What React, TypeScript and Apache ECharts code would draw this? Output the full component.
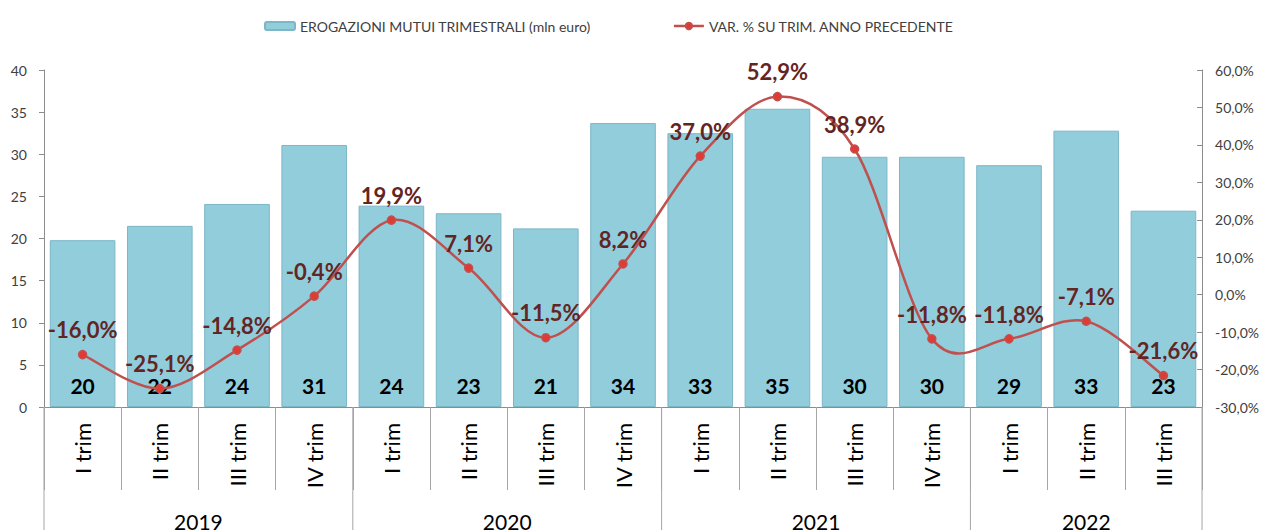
import React, { useEffect, useRef } from "react";
import * as echarts from "echarts";

const quarters = [
  "I trim", "II trim", "III trim", "IV trim",
  "I trim", "II trim", "III trim", "IV trim",
  "I trim", "II trim", "III trim", "IV trim",
  "I trim", "II trim", "III trim",
];
const years = ["2019", "2020", "2021", "2022"];
const quartersPerYear = [4, 4, 4, 3];
const erogazioni = [19.8, 21.5, 24.1, 31.1, 23.9, 23.0, 21.2, 33.7, 32.5, 35.4, 29.7, 29.7, 28.7, 32.8, 23.3];
const variazione = [-16.0, -25.1, -14.8, -0.4, 19.9, 7.1, -11.5, 8.2, 37.0, 52.9, 38.9, -11.8, -11.8, -7.1, -21.6];
const leftTicks = { min: 0, max: 40, interval: 5 };
const rightTicks = { min: -30, max: 60, interval: 10 };

const FONT = "Lato";
const LINE_COLOR = "#C0504D";
const SEP_COLOR = "#a6a6a6";
const pct = (v: number) => v.toFixed(1).replace(".", ",") + "%";

export default function App() {
  const ref = useRef<HTMLDivElement>(null);
  useEffect(() => {
    if (!ref.current) return;
    const chart = echarts.init(ref.current, null, { renderer: "svg" });

    // year groups: [firstQuarterIndex, quarterCount, yearIndex]
    const yearData: number[][] = [];
    let acc = 0;
    quartersPerYear.forEach((q, k) => {
      yearData.push([acc, q, k]);
      acc += q;
    });

    // Segment data for a Catmull-Rom (Excel-style) smoothed line: [i, prev, cur, next, next2]
    const n = variazione.length;
    const segData = variazione.slice(0, n - 1).map((v, i) => [
      i,
      variazione[Math.max(i - 1, 0)],
      v,
      variazione[i + 1],
      variazione[Math.min(i + 2, n - 1)],
    ]);

    chart.setOption({
      animation: false,
      backgroundColor: "#ffffff",
      textStyle: { fontFamily: FONT },
      legend: {
        left: 259,
        top: 14,
        itemWidth: 30,
        itemHeight: 8,
        itemGap: 82,
        textStyle: { fontFamily: FONT, fontSize: 14, color: "#404040" },
        lineStyle: { color: LINE_COLOR, width: 2.5, opacity: 1 },
        data: [
          { name: "EROGAZIONI MUTUI TRIMESTRALI (mln euro)" },
          { name: "VAR. % SU TRIM. ANNO PRECEDENTE" },
        ],
      },
      grid: { left: 44, right: 57, top: 70, bottom: 125, containLabel: false },
      xAxis: [
        {
          type: "category",
          data: quarters,
          position: "bottom",
          axisLine: { lineStyle: { color: "#8c8c8c", width: 1 } },
          axisTick: {
            show: true,
            interval: 0,
            alignWithLabel: false,
            length: 83,
            lineStyle: { color: SEP_COLOR },
          },
          axisLabel: {
            interval: 0,
            rotate: 90,
            margin: 16,
            fontFamily: FONT,
            fontSize: 22,
            color: "#000000",
          },
        },
      ],
      yAxis: [
        {
          type: "value",
          min: leftTicks.min,
          max: leftTicks.max,
          interval: leftTicks.interval,
          position: "left",
          splitLine: { show: false },
          axisLine: { show: true, lineStyle: { color: "#8c8c8c" } },
          axisTick: { show: true, inside: false, length: 5, lineStyle: { color: "#8c8c8c" } },
          axisLabel: { margin: 17, fontFamily: FONT, fontSize: 14, color: "#404040" },
        },
        {
          type: "value",
          min: rightTicks.min,
          max: rightTicks.max,
          interval: rightTicks.interval,
          position: "right",
          splitLine: { show: false },
          axisLine: { show: true, lineStyle: { color: "#8c8c8c" } },
          axisTick: { show: true, inside: true, length: 5, lineStyle: { color: "#8c8c8c" } },
          axisLabel: {
            margin: 13,
            fontFamily: FONT,
            fontSize: 14,
            color: "#404040",
            formatter: (v: number) => pct(v),
          },
        },
      ],
      series: [
        {
          name: "EROGAZIONI MUTUI TRIMESTRALI (mln euro)",
          type: "bar",
          xAxisIndex: 0,
          yAxisIndex: 0,
          data: erogazioni,
          barCategoryGap: "15%",
          itemStyle: { color: "#92CDDC", borderColor: "#7db6c7", borderWidth: 1 },
          label: {
            show: true,
            position: "insideBottom",
            distance: 11,
            fontFamily: FONT,
            fontWeight: "bold",
            fontSize: 21,
            color: "#000000",
            formatter: (p: any) => String(Math.round(p.value)),
          },
          z: 2,
        },
        {
          type: "custom",
          xAxisIndex: 0,
          yAxisIndex: 0,
          data: yearData,
          silent: true,
          clip: false,
          z: 1,
          renderItem: (params: any, api: any) => {
            const start = api.value(0);
            const count = api.value(1);
            const k = api.value(2);
            const bw = api.size([1, 0])[0];
            const base = api.coord([start, 0]);
            const x0 = base[0] - bw / 2;
            const x1 = x0 + count * bw;
            const y0 = base[1];
            const y1 = y0 + 123;
            const children: any[] = [
              {
                type: "line",
                shape: { x1: x0, y1: y0, x2: x0, y2: y1 },
                style: { stroke: SEP_COLOR, lineWidth: 1 },
              },
              {
                type: "text",
                x: (x0 + x1) / 2,
                y: y0 + 114,
                style: {
                  text: years[k],
                  fontFamily: FONT,
                  fontSize: 21,
                  fill: "#000000",
                  align: "center",
                  verticalAlign: "middle",
                },
              },
            ];
            if (k === years.length - 1) {
              children.push({
                type: "line",
                shape: { x1: x1, y1: y0, x2: x1, y2: y1 },
                style: { stroke: SEP_COLOR, lineWidth: 1 },
              });
            }
            return { type: "group", children };
          },
        },
        {
          type: "custom",
          xAxisIndex: 0,
          yAxisIndex: 1,
          data: segData,
          silent: true,
          z: 3,
          renderItem: (params: any, api: any) => {
            const i = api.value(0);
            const p0 = api.coord([Math.max(i - 1, 0), api.value(1)]);
            const p1 = api.coord([i, api.value(2)]);
            const p2 = api.coord([i + 1, api.value(3)]);
            const p3 = api.coord([Math.min(i + 2, n - 1), api.value(4)]);
            return {
              type: "bezierCurve",
              shape: {
                x1: p1[0],
                y1: p1[1],
                x2: p2[0],
                y2: p2[1],
                cpx1: p1[0] + (p2[0] - p0[0]) / 6,
                cpy1: p1[1] + (p2[1] - p0[1]) / 6,
                cpx2: p2[0] - (p3[0] - p1[0]) / 6,
                cpy2: p2[1] - (p3[1] - p1[1]) / 6,
              },
              style: { stroke: LINE_COLOR, lineWidth: 2.5, fill: "none" },
            };
          },
        },
        {
          name: "VAR. % SU TRIM. ANNO PRECEDENTE",
          type: "line",
          xAxisIndex: 0,
          yAxisIndex: 1,
          data: variazione,
          symbol: "circle",
          symbolSize: 8,
          lineStyle: { color: LINE_COLOR, width: 2.5, opacity: 0 },
          itemStyle: { color: "#e03a35", borderColor: LINE_COLOR, borderWidth: 1.5 },
          label: {
            show: true,
            position: "top",
            distance: 9,
            fontFamily: FONT,
            fontWeight: "bold",
            fontSize: 22,
            color: "#632523",
            formatter: (p: any) => pct(p.value),
          },
          z: 4,
        },
      ],
    });
    return () => chart.dispose();
  }, []);
  return (
    <div
      ref={ref}
      style={{ position: "absolute", left: 0, top: 0, width: 1262, height: 532 }}
    />
  );
}
